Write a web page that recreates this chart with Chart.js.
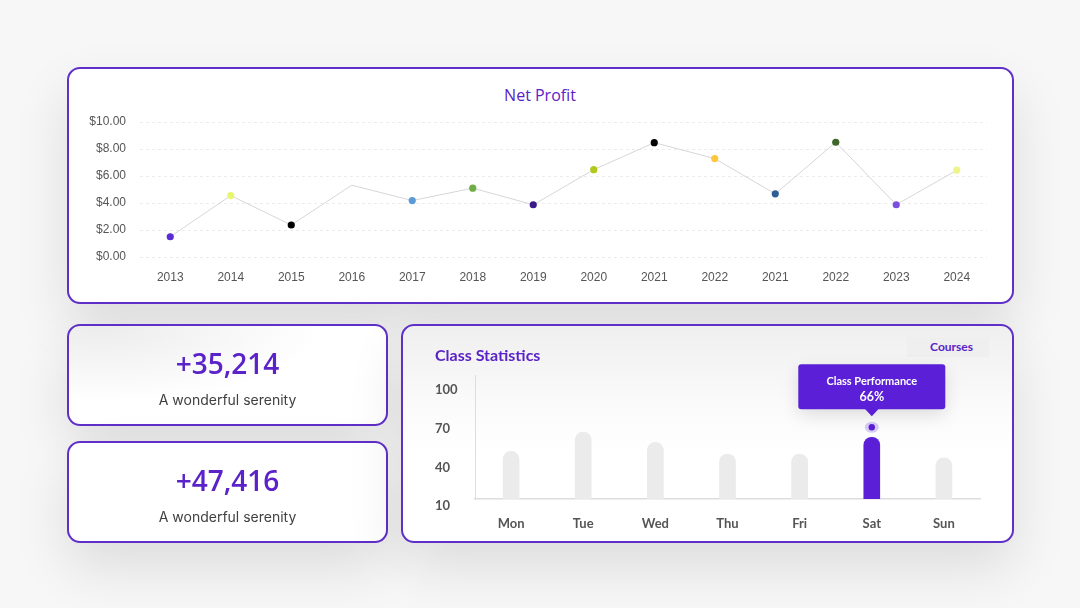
<!DOCTYPE html>
<html>
<head>
<meta charset="utf-8">
<script src="https://cdn.jsdelivr.net/npm/chart.js@4/dist/chart.umd.min.js"></script>
<style>
  html, body { margin: 0; padding: 0; }
  body { width: 1080px; height: 608px; background: #f7f7f7; position: relative; overflow: hidden; font-family: "Open Sans", sans-serif; }
  .card { position: absolute; box-sizing: border-box; border: 2px solid #5f2fc8; background: #fff; border-radius: 13px; box-shadow: 0 24px 55px rgba(0,0,0,0.11); }
  #top { left: 67px; top: 67px; width: 947px; height: 237px; }
  #k1 { left: 67px; top: 324px; width: 321px; height: 102px; background: radial-gradient(ellipse at 10% 0%, #ececec 0%, #ffffff 55%); }
  #k2 { left: 67px; top: 441px; width: 321px; height: 102px; }
  #stats { left: 401px; top: 324px; width: 613px; height: 219px; background: linear-gradient(180deg, #efefef 0%, #fafafa 35%, #ffffff 60%); }
  .title { position: absolute; color: #5a22c8; }
  .big { position: absolute; left: 0; width: 100%; text-align: center; color: #5a22c8; font-family: "Open Sans", sans-serif; font-weight: 600; font-size: 28px; line-height: 1; }
  .sub { position: absolute; left: 0; width: 100%; text-align: center; color: #404040; font-family: Inter, sans-serif; font-size: 14px; line-height: 1; }
  canvas { position: absolute; }
</style>
</head>
<body>
<div class="card" id="top"></div>
<div class="title" style="left:0;width:1080px;text-align:center;top:85px;font-family:'Open Sans',sans-serif;font-weight:500;font-size:16px;line-height:20px;">Net Profit</div>
<canvas id="lineChart" width="946" height="236" style="left:68px;top:68px;width:946px;height:236px;"></canvas>

<div class="card" id="k1">
  <div class="big" style="top:23px;">+35,214</div>
  <div class="sub" style="top:67px;">A wonderful serenity</div>
</div>
<div class="card" id="k2">
  <div class="big" style="top:23px;">+47,416</div>
  <div class="sub" style="top:67px;">A wonderful serenity</div>
</div>

<div class="card" id="stats">
  <div class="title" style="left:32px;top:19px;font-family:Lato,sans-serif;font-weight:700;font-size:16px;line-height:20px;">Class Statistics</div>
  <div style="position:absolute;left:504px;top:11px;width:82px;height:20px;background:#efefef;color:#5a22c8;font-family:Lato,sans-serif;font-weight:700;font-size:12px;line-height:20px;text-align:right;box-sizing:border-box;padding-right:16px;">Courses</div>
</div>
<canvas id="barChart" width="612" height="218" style="left:402px;top:325px;width:612px;height:218px;"></canvas>

<script>
// ---- Net Profit data ----
const years = ['2013','2014','2015','2016','2017','2018','2019','2020','2021','2022','2021','2022','2023','2024'];
const profit = [1.5, 4.55, 2.37, 5.32, 4.18, 5.1, 3.87, 6.47, 8.47, 7.29, 4.68, 8.5, 3.87, 6.43];
const pointColors = ['#5b2bd6','#e9f56c','#000000','rgba(0,0,0,0)','#5b9bd5','#70ad47','#3a1a8a','#b4c71c','#000000','#ffc73a','#2d5e96','#3f6629','#7a4fe0','#eef58c'];
const profitTicks = [0, 2, 4, 6, 8, 10];

// ---- Class statistics data ----
const days = ['Mon','Tue','Wed','Thu','Fri','Sat','Sun'];
const performance = [47, 62, 54, 45, 45, 58, 42];
const statTicks = [10, 40, 70, 100];
const highlightDay = 'Sat';
const tooltipTitle = 'Class Performance';
const tooltipValue = '66%';

const PURPLE = '#5a1fd6';

new Chart(document.getElementById('lineChart'), {
  type: 'line',
  data: {
    labels: years,
    datasets: [{
      data: profit,
      borderColor: '#d6d6d6',
      borderWidth: 1,
      tension: 0,
      pointRadius: 3.6,
      pointBorderWidth: 0,
      pointBackgroundColor: pointColors,
      pointBorderColor: pointColors
    }]
  },
  options: {
    responsive: false,
    animation: false,
    events: [],
    layout: { padding: { left: 2, right: 27, top: 54, bottom: 0 } },
    plugins: { legend: { display: false }, tooltip: { enabled: false } },
    scales: {
      x: {
        offset: true,
        grid: { display: false, drawTicks: false },
        border: { display: false },
        ticks: { padding: 13, color: '#555555', font: { family: 'Liberation Sans', size: 12 }, maxRotation: 0, autoSkip: false },
        afterFit: s => { s.height = 47; }
      },
      y: {
        min: 0, max: 10,
        afterBuildTicks: s => { s.ticks = profitTicks.map(v => ({ value: v })); },
        grid: { color: '#ececec', drawTicks: false, lineWidth: 1 },
        border: { display: false, dash: [3, 3] },
        ticks: { padding: 14, color: '#555555', font: { family: 'Liberation Sans', size: 12 }, callback: v => '$' + Number(v).toFixed(2) },
        afterFit: s => { s.width = 70; }
      }
    }
  }
});

const highlightPlugin = {
  id: 'highlight',
  afterDatasetsDraw(chart) {
    const idx = days.indexOf(highlightDay);
    const el = chart.getDatasetMeta(0).data[idx];
    if (!el) return;
    const ctx = chart.ctx;
    const x = el.x, top = el.y;
    ctx.save();
    ctx.fillStyle = 'rgba(120,80,220,0.28)';
    ctx.beginPath(); ctx.ellipse(x, top - 10, 7, 5.5, 0, 0, Math.PI * 2); ctx.fill();
    ctx.fillStyle = PURPLE;
    ctx.beginPath(); ctx.arc(x, top - 10, 3.2, 0, Math.PI * 2); ctx.fill();
    const w = 147, h = 45, bx = x - w / 2, by = top - 73;
    ctx.shadowColor = 'rgba(0,0,0,0.12)'; ctx.shadowBlur = 18; ctx.shadowOffsetY = 6;
    ctx.fillStyle = PURPLE;
    ctx.beginPath();
    ctx.roundRect(bx, by, w, h, 3);
    ctx.fill();
    ctx.shadowColor = 'transparent';
    ctx.beginPath();
    ctx.moveTo(x - 7, by + h - 0.5); ctx.lineTo(x + 7, by + h - 0.5); ctx.lineTo(x, by + h + 7); ctx.closePath();
    ctx.fill();
    ctx.fillStyle = '#ffffff';
    ctx.textAlign = 'center'; ctx.textBaseline = 'middle';
    ctx.font = 'bold 11px Lato';
    ctx.fillText(tooltipTitle, x, by + 17);
    ctx.font = 'bold 12.5px Lato';
    ctx.fillText(tooltipValue, x, by + 33);
    ctx.restore();
  }
};

new Chart(document.getElementById('barChart'), {
  type: 'bar',
  data: {
    labels: days,
    datasets: [{
      data: performance,
      backgroundColor: days.map(d => d === highlightDay ? PURPLE : '#ebebeb'),
      barThickness: 16,
      borderRadius: { topLeft: 8, topRight: 8, bottomLeft: 0, bottomRight: 0 },
      borderSkipped: 'bottom'
    }]
  },
  plugins: [highlightPlugin],
  options: {
    responsive: false,
    animation: false,
    events: [],
    layout: { padding: { left: 33, right: 34, top: 50, bottom: 0 } },
    plugins: { legend: { display: false }, tooltip: { enabled: false } },
    scales: {
      x: {
        offset: true,
        grid: { display: false, drawTicks: false },
        border: { display: true, color: '#dddddd', width: 1.5 },
        ticks: { padding: 17, color: '#555555', font: { family: 'Lato', size: 13, weight: 'bold' } },
        afterFit: s => { s.height = 44; }
      },
      y: {
        min: 10, max: 106.4,
        afterBuildTicks: s => { s.ticks = statTicks.map(v => ({ value: v })); },
        grid: { display: false, drawTicks: false },
        border: { display: true, color: '#dddddd', width: 1 },
        ticks: { crossAlign: 'far', labelOffset: 7, color: '#555555', font: { family: 'Lato', size: 13, weight: 'bold' } },
        afterFit: s => { s.width = 40; }
      }
    }
  }
});
</script>
</body>
</html>
